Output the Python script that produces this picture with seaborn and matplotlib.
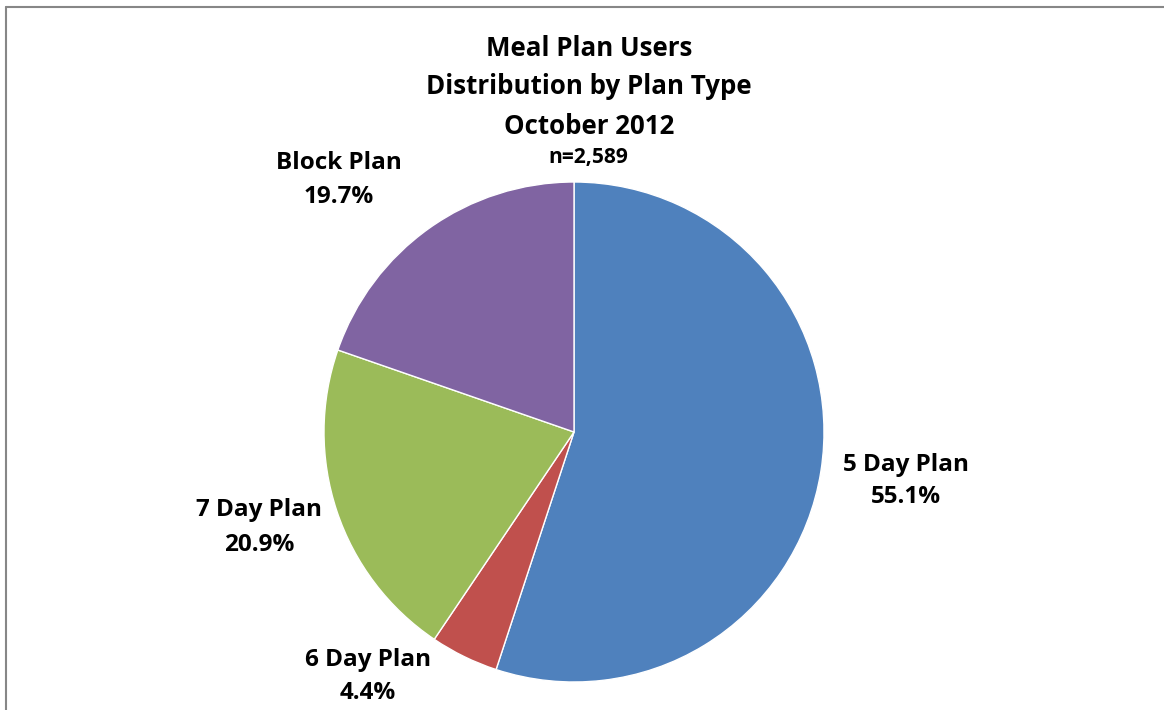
import matplotlib
matplotlib.use("Agg")
import matplotlib.pyplot as plt
import seaborn as sns
from matplotlib.lines import Line2D

# Meal plan users by plan type, October 2012
plans = ["5 Day Plan", "6 Day Plan", "7 Day Plan", "Block Plan"]
shares = [55.1, 4.4, 20.9, 19.7]
total_users = "2,589"
title_lines = ["Meal Plan Users", "Distribution by Plan Type", "October 2012"]

sns.set_theme(style="white")
plt.rcParams["font.family"] = ["Open Sans", "DejaVu Sans"]

colors = sns.color_palette(["#4F81BD", "#C0504D", "#9BBB59", "#8064A2"])

W, H = 1164, 710
fig = plt.figure(figsize=(W / 100, H / 100), dpi=100)
ax = fig.add_axes([0, 0, 1, 1])

cx, cy, r = 574, H - 432, 250
ax.pie(shares, colors=colors, startangle=90, counterclock=False,
       center=(cx, cy), radius=r,
       wedgeprops=dict(edgecolor="white", linewidth=1))
ax.set_xlim(0, W)
ax.set_ylim(0, H)
ax.set_aspect("auto")
ax.axis("off")

renderer = fig.canvas.get_renderer()


def size_for_width(text, width_px, base=14):
    """Font size at which a bold line of text spans width_px pixels."""
    probe = ax.text(0, 0, text, fontsize=base, fontweight="bold")
    w = probe.get_window_extent(renderer).width
    probe.remove()
    return base * width_px / w


title_size = size_for_width(title_lines[1], 326)
label_size = size_for_width(plans[0], 127)
n_size = size_for_width(f"n={total_users}", 80)

# title block (pixel rows measured from the top)
for line, y in zip(title_lines, [48, 87, 127]):
    ax.text(589, H - y, line, ha="center", va="center", fontsize=title_size,
            fontweight="bold", color="black")
ax.text(588, H - 158, f"n={total_users}", ha="center", va="center",
        fontsize=n_size, fontweight="bold", color="black")

# category labels: name on one row, share on the next
label_pos = [(906, 465, 497), (368, 660, 693), (259, 510, 545), (339, 163, 197)]
for name, pct, (lx, y1, y2) in zip(plans, shares, label_pos):
    ax.text(lx, H - y1, name, ha="center", va="center",
            fontsize=label_size, fontweight="bold", color="black")
    ax.text(lx, H - y2, f"{pct:.1f}%", ha="center", va="center",
            fontsize=label_size, fontweight="bold", color="black")

# chart area frame along the top and left edges
fig.add_artist(Line2D([6 / W, 6 / W], [0, 1 - 7 / H], transform=fig.transFigure,
                      color="#878787", linewidth=1.5))
fig.add_artist(Line2D([6 / W, 1], [1 - 7 / H, 1 - 7 / H], transform=fig.transFigure,
                      color="#878787", linewidth=1.5))

fig.savefig("out.png", dpi=100, facecolor="white")
